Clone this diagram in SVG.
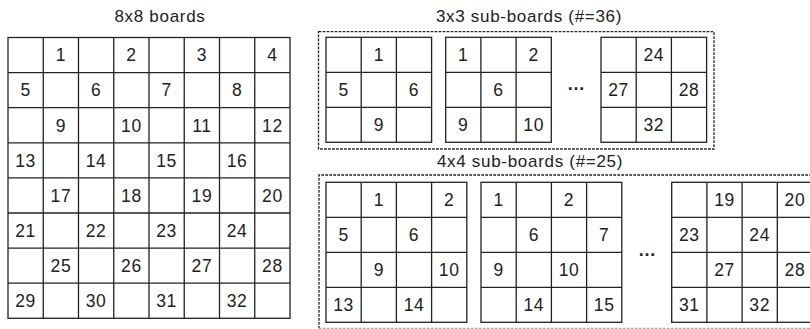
<svg xmlns="http://www.w3.org/2000/svg" width="810" height="329" viewBox="0 0 810 329">
<style>
.g{fill:#fff;stroke:#222;stroke-width:1.3}
.l{fill:none;stroke:#222;stroke-width:1.3}
.d{fill:none;stroke:#222;stroke-width:1.3;stroke-dasharray:2.7 1.3}
text{font-family:"Liberation Sans",Arial,sans-serif;font-size:17.5px;fill:#222;text-anchor:middle;letter-spacing:0.6px}
.t{font-size:17px;letter-spacing:0.7px}
.e{font-size:18px;letter-spacing:0;font-weight:bold}
</style>
<g id="titles">
<text class="t" x="160" y="21.7">8x8 boards</text>
<text class="t" x="529" y="21.7">3x3 sub-boards (#=36)</text>
<text class="t" x="530" y="166.7">4x4 sub-boards (#=25)</text>
</g>
<g id="board8x8" transform="translate(8,37.5)">
<rect class="g" x="0" y="0" width="282" height="280.8"/>
<path class="l" d="M35.25 0V280.8M70.5 0V280.8M105.75 0V280.8M141 0V280.8M176.25 0V280.8M211.5 0V280.8M246.75 0V280.8M0 35.1H282M0 70.2H282M0 105.3H282M0 140.4H282M0 175.5H282M0 210.6H282M0 245.7H282"/>
<text x="52.9" y="23.8">1</text><text x="123.4" y="23.8">2</text><text x="193.9" y="23.8">3</text><text x="264.4" y="23.8">4</text>
<text x="17.6" y="58.9">5</text><text x="88.1" y="58.9">6</text><text x="158.6" y="58.9">7</text><text x="229.1" y="58.9">8</text>
<text x="52.9" y="94">9</text><text x="123.4" y="94">10</text><text x="193.9" y="94">11</text><text x="264.4" y="94">12</text>
<text x="17.6" y="129.1">13</text><text x="88.1" y="129.1">14</text><text x="158.6" y="129.1">15</text><text x="229.1" y="129.1">16</text>
<text x="52.9" y="164.2">17</text><text x="123.4" y="164.2">18</text><text x="193.9" y="164.2">19</text><text x="264.4" y="164.2">20</text>
<text x="17.6" y="199.3">21</text><text x="88.1" y="199.3">22</text><text x="158.6" y="199.3">23</text><text x="229.1" y="199.3">24</text>
<text x="52.9" y="234.4">25</text><text x="123.4" y="234.4">26</text><text x="193.9" y="234.4">27</text><text x="264.4" y="234.4">28</text>
<text x="17.6" y="269.5">29</text><text x="88.1" y="269.5">30</text><text x="158.6" y="269.5">31</text><text x="229.1" y="269.5">32</text>
</g>
<g id="group3x3">
<rect class="d" x="318.5" y="31.7" width="395.5" height="117.3"/>
<g id="sub3-1" transform="translate(326,37.3)">
<rect class="g" x="0" y="0" width="105.6" height="105"/>
<path class="l" d="M35.2 0V105M70.4 0V105M0 35H105.6M0 70H105.6"/>
<text x="52.8" y="23.7">1</text><text x="17.6" y="58.7">5</text><text x="88" y="58.7">6</text><text x="52.8" y="93.7">9</text>
</g>
<g id="sub3-2" transform="translate(445.7,37.3)">
<rect class="g" x="0" y="0" width="105.6" height="105"/>
<path class="l" d="M35.2 0V105M70.4 0V105M0 35H105.6M0 70H105.6"/>
<text x="17.6" y="23.7">1</text><text x="88" y="23.7">2</text><text x="52.8" y="58.7">6</text><text x="17.6" y="93.7">9</text><text x="88" y="93.7">10</text>
</g>
<text class="e" x="576" y="89.8">…</text>
<g id="sub3-3" transform="translate(601,37.3)">
<rect class="g" x="0" y="0" width="105.6" height="105"/>
<path class="l" d="M35.2 0V105M70.4 0V105M0 35H105.6M0 70H105.6"/>
<text x="52.8" y="23.7">24</text><text x="17.6" y="58.7">27</text><text x="88" y="58.7">28</text><text x="52.8" y="93.7">32</text>
</g>
</g>
<g id="group4x4">
<path class="d" d="M820 175H319V328.3"/>
<path class="d" style="stroke:#aaa" d="M319 328.3H820"/>
<g id="sub4-1" transform="translate(326,182.3)">
<rect class="g" x="0" y="0" width="140.8" height="140"/>
<path class="l" d="M35.2 0V140M70.4 0V140M105.6 0V140M0 35H140.8M0 70H140.8M0 105H140.8"/>
<text x="52.8" y="23.7">1</text><text x="123.2" y="23.7">2</text>
<text x="17.6" y="58.7">5</text><text x="88" y="58.7">6</text>
<text x="52.8" y="93.7">9</text><text x="123.2" y="93.7">10</text>
<text x="17.6" y="128.7">13</text><text x="88" y="128.7">14</text>
</g>
<g id="sub4-2" transform="translate(481,182.3)">
<rect class="g" x="0" y="0" width="140.8" height="140"/>
<path class="l" d="M35.2 0V140M70.4 0V140M105.6 0V140M0 35H140.8M0 70H140.8M0 105H140.8"/>
<text x="17.6" y="23.7">1</text><text x="88" y="23.7">2</text>
<text x="52.8" y="58.7">6</text><text x="123.2" y="58.7">7</text>
<text x="17.6" y="93.7">9</text><text x="88" y="93.7">10</text>
<text x="52.8" y="128.7">14</text><text x="123.2" y="128.7">15</text>
</g>
<text class="e" x="647" y="256">…</text>
<g id="sub4-3" transform="translate(671.7,182.3)">
<rect class="g" x="0" y="0" width="140.8" height="140"/>
<path class="l" d="M35.2 0V140M70.4 0V140M105.6 0V140M0 35H140.8M0 70H140.8M0 105H140.8"/>
<text x="52.8" y="23.7">19</text><text x="123.2" y="23.7">20</text>
<text x="17.6" y="58.7">23</text><text x="88" y="58.7">24</text>
<text x="52.8" y="93.7">27</text><text x="123.2" y="93.7">28</text>
<text x="17.6" y="128.7">31</text><text x="88" y="128.7">32</text>
</g>
</g>
</svg>
